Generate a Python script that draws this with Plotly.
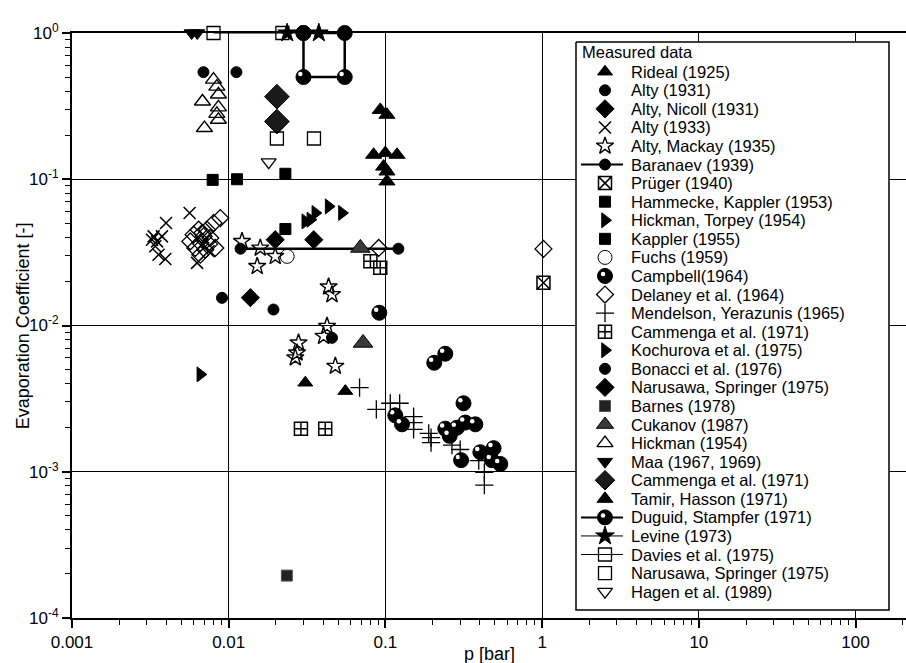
import plotly.graph_objects as go

# ---------------- data (p [bar], evaporation coefficient [-]) ----------------
rideal_p = [0.0308, 0.0555]
rideal_e = [0.00406, 0.00356]
alty31_p = [0.0069, 0.0112]
alty31_e = [0.54, 0.54]
altynicoll_p = [0.01375]
altynicoll_e = [0.0155]
alty33_p = [0.00398, 0.00375, 0.00332, 0.00324, 0.00349, 0.0034, 0.00357, 0.00394, 0.00563, 0.00628, 0.00744, 0.0068]
alty33_e = [0.0502, 0.0407, 0.0407, 0.0386, 0.0376, 0.0348, 0.0305, 0.0285, 0.0588, 0.0268, 0.0322, 0.036]
altymackay_p = [0.01216, 0.0159, 0.0152, 0.0198, 0.0434, 0.0456, 0.0424, 0.0403, 0.0279, 0.0273, 0.0266, 0.0479]
altymackay_e = [0.0376, 0.0339, 0.0254, 0.0297, 0.0184, 0.0163, 0.0099, 0.00845, 0.00762, 0.00651, 0.00602, 0.00527]
baranaev_p = [0.0119, 0.121]
baranaev_e = [0.0335, 0.0335]
pruger_p = [1.02]
pruger_e = [0.0196]
hammecke_p = [0.0079, 0.0113, 0.023]
hammecke_e = [0.099, 0.1, 0.109]
hickmantorpey_p = [0.0308, 0.0332, 0.0357, 0.0434, 0.0528]
hickmantorpey_e = [0.0515, 0.0529, 0.0588, 0.0652, 0.0588]
kappler_p = [0.023]
kappler_e = [0.0457]
fuchs_p = [0.0236]
fuchs_e = [0.0297]
campbell_p = [0.0914, 0.205, 0.241, 0.315, 0.1156, 0.1276, 0.241, 0.286, 0.257, 0.3236, 0.375, 0.304, 0.4036, 0.49, 0.478, 0.541]
campbell_e = [0.01222, 0.00556, 0.00641, 0.00294, 0.00243, 0.00211, 0.00197, 0.0020, 0.00176, 0.00217, 0.00211, 0.0012, 0.00136, 0.00145, 0.0012, 0.00113]
delaney_p = [0.00884, 0.00801, 0.00821, 0.00569, 0.00643, 0.00727, 0.00659, 0.00612, 0.00709, 0.00763, 0.00692, 0.00597, 0.00659, 0.0075, 0.0068, 0.0906, 1.02]
delaney_e = [0.0543, 0.0502, 0.0339, 0.0376, 0.0452, 0.0452, 0.0367, 0.0339, 0.033, 0.0397, 0.0407, 0.0418, 0.0305, 0.036, 0.043, 0.0339, 0.0334]
mendelson_p = [0.0684, 0.0875, 0.1074, 0.1233, 0.1513, 0.1513, 0.1513, 0.1889, 0.1955, 0.1955, 0.266, 0.30, 0.394, 0.428, 0.428]
mendelson_e = [0.00376, 0.00267, 0.00294, 0.00294, 0.00238, 0.00217, 0.00195, 0.00183, 0.00171, 0.00158, 0.00152, 0.00142, 0.00119, 0.00099, 0.00081]
cammengasq_p = [0.0289, 0.0413, 0.0802, 0.0927]
cammengasq_e = [0.00197, 0.00197, 0.0275, 0.0248]
kochurova_p = [0.00659]
kochurova_e = [0.00463]
bonacci_p = [0.00906, 0.0193, 0.0456]
bonacci_e = [0.01545, 0.01286, 0.00824]
narusawadia_p = [0.0198, 0.0349]
narusawadia_e = [0.0386, 0.0386]
barnes_p = [0.0235]
barnes_e = [0.000195]
cukanov_p = [0.0692, 0.072]
cukanov_e = [0.0339, 0.0076]
hickman_p = [0.0080, 0.0084, 0.0068, 0.0086, 0.0086, 0.0084, 0.0086, 0.0070]
hickman_e = [0.48, 0.43, 0.34, 0.38, 0.31, 0.28, 0.255, 0.224]
maa_p = [0.0058, 0.0063]
maa_e = [1.0, 1.0]
cammengadia_p = [0.0203, 0.0203]
cammengadia_e = [0.367, 0.248]
tamir_p = [0.0927, 0.1023, 0.0841, 0.0998, 0.1186, 0.0974, 0.1023, 0.1023]
tamir_e = [0.298, 0.276, 0.147, 0.151, 0.147, 0.122, 0.113, 0.0966]
duguid_p = [0.03, 0.03, 0.055, 0.055, 0.03]
duguid_e = [1.0, 0.5, 0.5, 1.0, 1.0]
levine_p = [0.0236, 0.0376]
levine_e = [1.0, 1.0]
davies_p = [0.008, 0.022]
davies_e = [1.0, 1.0]
narusawasq_p = [0.0203, 0.035]
narusawasq_e = [0.19, 0.19]
hagen_p = [0.018]
hagen_e = [0.131]

x_ticks = [0.001, 0.01, 0.1, 1, 10, 100]
x_ticktext = ["0.001", "0.01", "0.1", "1", "10", "100"]
y_ticks = [1e-4, 1e-3, 1e-2, 1e-1, 1]
y_ticktext = ["10<sup>-4</sup>", "10<sup>-3</sup>", "10<sup>-2</sup>", "10<sup>-1</sup>", "10<sup>0</sup>"]
legend_title = "Measured data"

FONT = "Arial, Liberation Sans, Helvetica, sans-serif"
LEG_FS = 16.5

# series: name, p, e, symbol, size, fill colour, line width, line colour, connecting line width, dot
series = [
    ("Rideal (1925)", rideal_p, rideal_e, "triangle-up", 13, "black", 1, "black", 0, False),
    ("Alty (1931)", alty31_p, alty31_e, "circle", 11, "black", 1, "black", 0, False),
    ("Alty, Nicoll (1931)", altynicoll_p, altynicoll_e, "diamond", 14, "black", 1, "black", 0, False),
    ("Alty (1933)", alty33_p, alty33_e, "x-thin-open", 12, "black", 1.5, "black", 0, False),
    ("Alty, Mackay (1935)", altymackay_p, altymackay_e, "star-open", 13, "black", 1.4, "black", 0, False),
    ("Baranaev (1939)", baranaev_p, baranaev_e, "circle", 11, "black", 1, "black", 2.5, False),
    ("Prüger (1940)", pruger_p, pruger_e, "square-x-open", 13, "black", 1.5, "black", 0, False),
    ("Hammecke, Kappler (1953)", hammecke_p, hammecke_e, "square", 11, "black", 1, "black", 0, False),
    ("Hickman, Torpey (1954)", hickmantorpey_p, hickmantorpey_e, "triangle-right", 13, "black", 1, "black", 0, False),
    ("Kappler (1955)", kappler_p, kappler_e, "square", 11, "black", 1, "black", 0, False),
    ("Fuchs (1959)", fuchs_p, fuchs_e, "circle-open", 14, "black", 1, "#bbbbbb", 0, False),
    ("Campbell(1964)", campbell_p, campbell_e, "circle", 15, "black", 1, "black", 0, True),
    ("Delaney et al. (1964)", delaney_p, delaney_e, "diamond-open", 13, "black", 1.3, "black", 0, False),
    ("Mendelson, Yerazunis (1965)", mendelson_p, mendelson_e, "cross-thin-open", 13, "black", 1.3, "black", 0, False),
    ("Cammenga et al. (1971)", cammengasq_p, cammengasq_e, "square-cross-open", 13, "black", 1.5, "black", 0, False),
    ("Kochurova et al. (1975)", kochurova_p, kochurova_e, "triangle-right", 13, "black", 1, "black", 0, False),
    ("Bonacci et al. (1976)", bonacci_p, bonacci_e, "circle", 11, "black", 1, "black", 0, False),
    ("Narusawa, Springer (1975)", narusawadia_p, narusawadia_e, "diamond", 14, "black", 1, "black", 0, False),
    ("Barnes (1978)", barnes_p, barnes_e, "square", 11, "#222222", 1, "#555555", 0, False),
    ("Cukanov (1987)", cukanov_p, cukanov_e, "triangle-up", 17, "#3a3a3a", 1, "black", 0, False),
    ("Hickman (1954)", hickman_p, hickman_e, "triangle-up-open", 14, "black", 1.4, "black", 0, False),
    ("Maa (1967, 1969)", maa_p, maa_e, "triangle-down", 13, "black", 1, "black", 0, False),
    ("Cammenga et al. (1971)", cammengadia_p, cammengadia_e, "diamond", 19, "#1a1a1a", 1, "black", 0, False),
    ("Tamir, Hasson (1971)", tamir_p, tamir_e, "triangle-up", 14, "black", 1, "black", 0, False),
    ("Duguid, Stampfer (1971)", duguid_p, duguid_e, "circle", 15, "black", 1, "black", 2.5, True),
    ("Levine (1973)", levine_p, levine_e, "star", 14, "black", 1, "black", 1, False),
    ("Davies et al. (1975)", davies_p, davies_e, "square-open", 13, "black", 1.3, "black", 1, False),
    ("Narusawa, Springer (1975)", narusawasq_p, narusawasq_e, "square-open", 13, "black", 1.3, "black", 0, False),
    ("Hagen et al. (1989)", hagen_p, hagen_e, "triangle-down-open", 13, "black", 1.3, "black", 0, False),
]

fig = go.Figure()

# data marks
for name, p, e, sym, size, col, lw, lcol, conn, dot in series:
    fig.add_trace(go.Scatter(
        x=p, y=e, mode="lines+markers" if conn else "markers", showlegend=False,
        marker=dict(symbol=sym, size=size, color=col, line=dict(width=lw, color=lcol)),
        line=dict(width=conn if conn else 1, color="black"), cliponaxis=False,
    ))
    if dot:
        fig.add_trace(go.Scatter(
            x=[v * 0.955 for v in p], y=[v * 1.05 for v in e], mode="markers", showlegend=False,
            marker=dict(symbol="circle", size=4.5, color="white", line=dict(width=0)),
            cliponaxis=False,
        ))

# ---------------- hand-built legend (pixel coordinates on an overlay axis) ----------------
L_X0, L_X1, L_Y0, L_Y1 = 576, 889, 42, 610
ROW0, ROWH = 71.7, 18.57
SYM_X, LINE_X0, LINE_X1, TEXT_X = 605, 581, 623, 630

fig.add_trace(go.Scatter(
    x=[L_X0, L_X1, L_X1, L_X0, L_X0], y=[L_Y0, L_Y0, L_Y1, L_Y1, L_Y0],
    mode="lines", fill="toself", fillcolor="white", line=dict(color="black", width=1.5),
    xaxis="x2", yaxis="y2", showlegend=False, hoverinfo="skip",
))
fig.add_annotation(text=legend_title, x=L_X0 + 5, y=52, xref="x2", yref="y2",
                   xanchor="left", yanchor="middle", showarrow=False, borderpad=0,
                   font=dict(family=FONT, size=LEG_FS, color="black"))
for i, (name, p, e, sym, size, col, lw, lcol, conn, dot) in enumerate(series):
    ry = ROW0 + i * ROWH
    if conn:
        fig.add_trace(go.Scatter(x=[LINE_X0, LINE_X1], y=[ry, ry], mode="lines",
                                 line=dict(width=min(conn, 2), color="black"),
                                 xaxis="x2", yaxis="y2", showlegend=False, hoverinfo="skip"))
    fig.add_trace(go.Scatter(
        x=[SYM_X], y=[ry], mode="markers", xaxis="x2", yaxis="y2", showlegend=False,
        marker=dict(symbol=sym, size=min(size, 15), color=col, line=dict(width=lw, color=lcol)),
        hoverinfo="skip",
    ))
    if dot:
        fig.add_trace(go.Scatter(x=[SYM_X - 2], y=[ry - 2], mode="markers", xaxis="x2", yaxis="y2",
                                 showlegend=False, hoverinfo="skip",
                                 marker=dict(symbol="circle", size=4.5, color="white", line=dict(width=0))))
    fig.add_annotation(text=name, x=TEXT_X, y=ry, xref="x2", yref="y2",
                       xanchor="left", yanchor="middle", showarrow=False, borderpad=0,
                       font=dict(family=FONT, size=LEG_FS, color="black"))

minor_x = [m * 10 ** k for k in range(-3, 3) for m in range(2, 10)]
minor_y = [m * 10 ** k for k in range(-4, 0) for m in range(2, 10)]

fig.update_xaxes(
    type="log", range=[-3, 2.322], tickmode="array", tickvals=x_ticks, ticktext=x_ticktext,
    ticks="outside", ticklen=8, tickwidth=1.5, tickcolor="black",
    showline=True, linecolor="black", linewidth=2, mirror=True,
    showgrid=True, gridcolor="black", gridwidth=1, zeroline=False,
    minor=dict(tickmode="array", tickvals=minor_x, ticks="outside", ticklen=5,
               tickwidth=1, tickcolor="black", showgrid=False),
    tickfont=dict(family=FONT, size=17, color="black"),
)
fig.update_yaxes(
    type="log", range=[-4, 0], tickmode="array", tickvals=y_ticks, ticktext=y_ticktext,
    ticks="outside", ticklen=8, tickwidth=1.5, tickcolor="black",
    showline=True, linecolor="black", linewidth=2,
    showgrid=True, gridcolor="black", gridwidth=1, zeroline=False,
    minor=dict(tickmode="array", tickvals=minor_y, ticks="outside", ticklen=5,
               tickwidth=1, tickcolor="black", showgrid=False),
    tickfont=dict(family=FONT, size=17, color="black"),
)

fig.add_annotation(text="p [bar]", xref="paper", yref="paper", x=0.5, y=-0.062,
                   xanchor="center", yanchor="middle", showarrow=False,
                   font=dict(family=FONT, size=18, color="black"))
fig.add_annotation(text="Evaporation Coefficient [-]", xref="paper", yref="paper",
                   x=-0.059, y=0.5, textangle=-90, xanchor="center", yanchor="middle",
                   showarrow=False, font=dict(family=FONT, size=18, color="black"))

fig.update_layout(
    width=906, height=663,
    margin=dict(l=72, r=0, t=33, b=45),
    paper_bgcolor="white", plot_bgcolor="white",
    font=dict(family=FONT, color="black"),
    showlegend=False,
    xaxis2=dict(overlaying="x", anchor="y2", range=[72, 906], visible=False, fixedrange=True),
    yaxis2=dict(overlaying="y", anchor="x2", range=[618, 33], visible=False, fixedrange=True),
)

fig.write_html("out.html")
